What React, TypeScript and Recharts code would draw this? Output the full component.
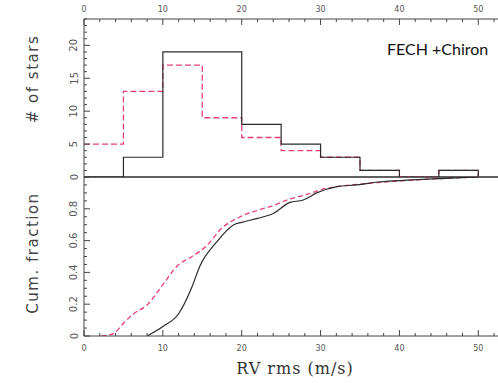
import { ComposedChart, Line, XAxis, YAxis, ReferenceLine } from "recharts";

// histogram bins (left edges, m/s); last edge closes the step
const binEdges = [0, 5, 10, 15, 20, 25, 30, 35, 40, 45, 50];
const fechCounts = [0, 3, 19, 19, 8, 5, 3, 1, 0, 1, 0];
const chironCounts = [5, 13, 17, 9, 6, 4, 3, 1, 0, 1, 0];

// cumulative fractions
const cumFechX = [8, 10, 12, 13.7, 14.7, 16.8, 19, 20, 22, 24, 26.1, 27.8, 29.5, 32.1, 34.6, 37.6, 41, 45.2, 50];
const cumFechY = [0, 0.06, 0.14, 0.31, 0.44, 0.59, 0.7, 0.715, 0.74, 0.77, 0.84, 0.855, 0.9, 0.94, 0.95, 0.97, 0.98, 0.99, 1.0];
const cumChironX = [2.2, 3, 3.9, 5, 6.3, 8, 10.1, 11.8, 13.7, 15.6, 17.3, 19.8, 22, 24, 26, 28.3, 30, 32.1, 35, 40, 45, 50];
const cumChironY = [0, 0.005, 0.02, 0.08, 0.14, 0.195, 0.33, 0.44, 0.5, 0.57, 0.67, 0.75, 0.79, 0.82, 0.86, 0.89, 0.92, 0.94, 0.955, 0.975, 0.99, 1.0];

// axis ticks
const xMajor = [0, 10, 20, 30, 40, 50];
const xTicks = [0, 2, 4, 6, 8, 10, 12, 14, 16, 18, 20, 22, 24, 26, 28, 30, 32, 34, 36, 38, 40, 42, 44, 46, 48, 50, 52];
const countMajor = [0, 5, 10, 15, 20];
const fracMajor = [0, 0.2, 0.4, 0.6, 0.8];

const countTicks = Array.from({ length: 25 }, (_, i) => i);
const fracTicks = Array.from({ length: 21 }, (_, i) => Math.round(i * 5) / 100);

const histData = binEdges.map((x, i) => ({ x, fech: fechCounts[i], chiron: chironCounts[i] }));
const cumFech = cumFechX.map((x, i) => ({ x, y: cumFechY[i] }));
const cumChiron = cumChironX.map((x, i) => ({ x, y: cumChironY[i] }));

const AXIS = "#444";
const BLACK = "#2b2b2b";
const RED = "#e6407a";
const TICK_FONT = "'DejaVu Sans', sans-serif";

function XTick(props: any) {
  const { x, y, payload, side } = props;
  const v = payload.value;
  const major = xMajor.includes(v);
  const len = major ? 6 : 3;
  const dir = side === "top" ? 1 : -1;
  return (
    <g>
      <line x1={x} x2={x} y1={y} y2={y + dir * len} stroke={AXIS} strokeWidth={1} />
      {major && (
        <text
          x={x}
          y={side === "top" ? y - 7 : y + 15}
          textAnchor="middle"
          fontSize={8}
          fontFamily={TICK_FONT}
          fill="#555"
        >
          {v}
        </text>
      )}
    </g>
  );
}

function YTick(props: any) {
  const { x, y, payload, majors } = props;
  const v = payload.value;
  const major = majors.some((m: number) => Math.abs(m - v) < 1e-6);
  const len = major ? 6 : 3;
  const tx = x - 10;
  return (
    <g>
      <line x1={x} x2={x + len} y1={y} y2={y} stroke={AXIS} strokeWidth={1} />
      {major && (
        <text
          x={tx}
          y={y}
          transform={`rotate(-90 ${tx} ${y})`}
          textAnchor="middle"
          dominantBaseline="central"
          fontSize={10}
          fontFamily={TICK_FONT}
          fill="#555"
        >
          {v}
        </text>
      )}
    </g>
  );
}

function VTitle({ text, cx, cy }: { text: string; cx: number; cy: number }) {
  return (
    <text
      x={cx}
      y={cy}
      transform={`rotate(-90 ${cx} ${cy})`}
      textAnchor="middle"
      dominantBaseline="central"
      fontSize={15}
      letterSpacing={1.5}
      fontFamily="'DejaVu Sans', sans-serif"
      fill="#444"
    >
      {text}
    </text>
  );
}

export default function App() {
  return (
    <div
      style={{
        position: "absolute",
        left: 0,
        top: 0,
        width: 498,
        height: 383,
        overflow: "hidden",
        background: "#fff",
      }}
    >
      <div style={{ position: "absolute", left: 0, top: 177 }}>
        <ComposedChart width={498} height={206} margin={{ top: 0, right: 0, bottom: 0, left: 0 }}>
          <XAxis
            dataKey="x"
            type="number"
            domain={[0, 52.5]}
            ticks={xTicks}
            interval={0}
            height={47}
            tickSize={0}
            tickMargin={0}
            axisLine={{ stroke: AXIS }}
            tick={<XTick side="bottom" />}
            label={() => (
              <text
                x={295}
                y={197}
                textAnchor="middle"
                fontSize={16}
                letterSpacing={1}
                fontFamily="'DejaVu Serif', serif"
                fill="#333"
              >
                RV rms (m/s)
              </text>
            )}
            allowDataOverflow
          />
          <YAxis
            type="number"
            domain={[0, 1]}
            ticks={fracTicks}
            interval={0}
            width={84}
            tickSize={0}
            tickMargin={0}
            axisLine={{ stroke: AXIS }}
            tick={<YTick majors={fracMajor} />}
            label={() => <VTitle text="Cum. fraction" cx={33} cy={76} />}
            allowDataOverflow
          />
          <Line
            data={cumChiron}
            type="monotone"
            dataKey="y"
            stroke={RED}
            strokeWidth={1.3}
            strokeDasharray="5 3"
            dot={false}
            isAnimationActive={false}
          />
          <Line
            data={cumFech}
            type="monotone"
            dataKey="y"
            stroke={BLACK}
            strokeWidth={1.2}
            dot={false}
            isAnimationActive={false}
          />
        </ComposedChart>
      </div>

      <div style={{ position: "absolute", left: 0, top: 0 }}>
        <ComposedChart width={498} height={190} data={histData} margin={{ top: 0, right: 0, bottom: 13, left: 0 }}>
          <XAxis
            dataKey="x"
            type="number"
            orientation="top"
            domain={[0, 52.5]}
            ticks={xTicks}
            interval={0}
            height={19}
            tickSize={0}
            tickMargin={0}
            axisLine={{ stroke: AXIS }}
            tick={<XTick side="top" />}
            allowDataOverflow
          />
          <YAxis
            type="number"
            domain={[0, 24]}
            ticks={countTicks}
            interval={0}
            width={84}
            tickSize={0}
            tickMargin={0}
            axisLine={{ stroke: AXIS }}
            tick={<YTick majors={countMajor} />}
            label={() => <VTitle text="# of stars" cx={33} cy={79} />}
            allowDataOverflow
          />
          <ReferenceLine y={0} stroke={BLACK} strokeWidth={1.6} />
          <Line
            type="stepAfter"
            dataKey="chiron"
            stroke={RED}
            strokeWidth={1.3}
            strokeDasharray="6 3"
            dot={false}
            isAnimationActive={false}
          />
          <Line
            type="stepAfter"
            dataKey="fech"
            stroke={BLACK}
            strokeWidth={1.2}
            dot={false}
            isAnimationActive={false}
          />
        </ComposedChart>
      </div>

      <div
        style={{
          position: "absolute",
          left: 387,
          top: 39,
          fontFamily: "Lato, 'Noto Sans', sans-serif",
          fontSize: 16,
          color: "#111",
          whiteSpace: "nowrap",
        }}
      >
        FECH +Chiron
      </div>
    </div>
  );
}
